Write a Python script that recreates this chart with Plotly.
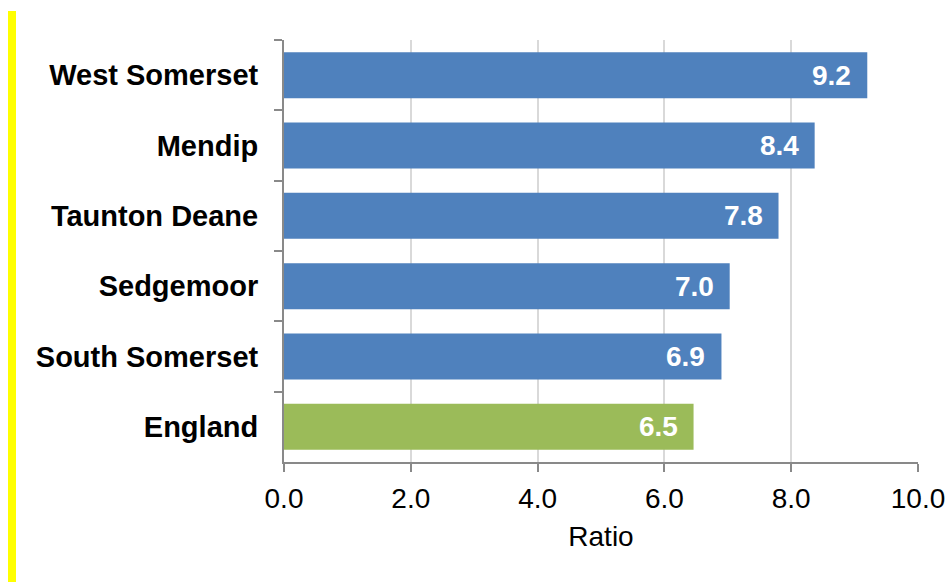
import plotly.graph_objects as go

categories = ["West Somerset", "Mendip", "Taunton Deane", "Sedgemoor", "South Somerset", "England"]
values = [9.2, 8.37, 7.8, 7.03, 6.9, 6.46]
bar_colors = ["#4F81BD", "#4F81BD", "#4F81BD", "#4F81BD", "#4F81BD", "#9BBB59"]
x_ticks = [0, 2, 4, 6, 8, 10]
x_tick_labels = ["0.0", "2.0", "4.0", "6.0", "8.0", "10.0"]

FONT = "Liberation Sans, Arial, sans-serif"

fig = go.Figure()
fig.add_trace(go.Bar(
    x=values,
    y=categories,
    orientation="h",
    marker=dict(color=bar_colors, line=dict(width=0)),
    width=0.655,
    hoverinfo="skip",
))

for c, v in zip(categories, values):
    fig.add_annotation(
        x=v, y=c, xref="x", yref="y",
        text="<b>%.1f</b>" % v,
        showarrow=False, xanchor="right", xshift=-14,
        font=dict(family=FONT, size=28, color="white"),
    )

# yellow vertical strip at left edge
fig.add_shape(type="rect", xref="paper", yref="paper",
              x0=(8 - 284) / 634, x1=(16 - 284) / 634,
              y0=(462 - 590) / 422, y1=(462 - 11) / 422,
              fillcolor="#FFFF00", line=dict(width=0), layer="above")

fig.update_layout(
    width=950, height=582,
    margin=dict(l=284, r=32, t=40, b=120, autoexpand=False),
    paper_bgcolor="white", plot_bgcolor="white",
    showlegend=False,
    font=dict(family=FONT, color="black"),
    xaxis=dict(
        range=[0, 10],
        tickvals=x_ticks, ticktext=x_tick_labels,
        showgrid=True, gridcolor="#D9D9D9", gridwidth=1.5,
        zeroline=False,
        showline=True, linecolor="#898989", linewidth=2,
        ticks="outside", ticklen=8, tickwidth=2, tickcolor="#898989",
        tickfont=dict(family=FONT, size=28, color="black"),
        ticklabelstandoff=2,
        title=dict(text="Ratio", font=dict(family=FONT, size=28, color="black"), standoff=14),
        automargin=False,
        fixedrange=True,
    ),
    yaxis=dict(
        type="category",
        autorange="reversed",
        showline=True, linecolor="#898989", linewidth=2,
        ticks="outside", ticklen=8, tickwidth=2, tickcolor="#898989",
        tickson="boundaries",
        tickfont=dict(family=FONT, size=29, color="black"),
        tickprefix="<b>", ticksuffix="</b>",
        ticklabelstandoff=18,
        showgrid=False, zeroline=False,
        automargin=False,
        fixedrange=True,
    ),
)

fig.write_html(
    "out.html",
    config={"displayModeBar": False},
    post_script="document.body.style.margin='0';document.body.style.overflow='hidden';",
)
